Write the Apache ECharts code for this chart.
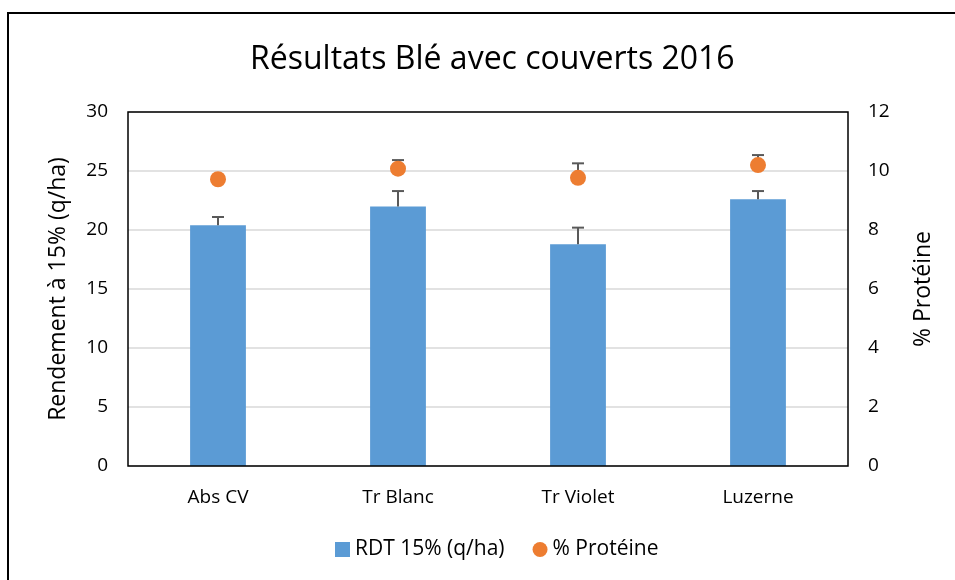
<!DOCTYPE html>
<html>
<head>
<meta charset="utf-8">
<script src="https://cdn.jsdelivr.net/npm/echarts@6/dist/echarts.min.js"></script>
<style>
  html, body { margin: 0; padding: 0; background: #fff; }
  #chart { width: 955px; height: 580px; }
</style>
</head>
<body>
<div id="chart"></div>
<script>
const categories = ['Abs CV', 'Tr Blanc', 'Tr Violet', 'Luzerne']
const rdtValues = [20.4, 22.0, 18.8, 22.6]
const rdtErrors = [0.7, 1.3, 1.4, 0.7]
const proteinValues = [9.72, 10.08, 9.77, 10.2]
const proteinErrors = [0.1, 0.29, 0.49, 0.34]

const fontFamily = '"Open Sans", "Noto Sans", sans-serif'
const textColor = '#000'

// plus-only error bars, Excel style
const errorBar = (values, errors) => (params, api) => {
  const i = params.dataIndex
  const base = api.coord([i, values[i]])
  const top = api.coord([i, values[i] + errors[i]])
  const style = { stroke: '#595959', lineWidth: 2 }
  return {
    type: 'group',
    children: [
      { type: 'line', shape: { x1: base[0], y1: base[1], x2: top[0], y2: top[1] }, style },
      { type: 'line', shape: { x1: top[0] - 6, y1: top[1], x2: top[0] + 6, y2: top[1] }, style }
    ]
  }
}

const chart = echarts.init(document.getElementById('chart'))
chart.setOption({
  animation: false,
  title: {
    text: 'Résultats Blé avec couverts 2016',
    left: 245,
    top: 39,
    textStyle: { fontFamily, fontSize: 32, fontWeight: 'normal', color: textColor }
  },
  graphic: [{
    type: 'rect',
    shape: { x: 8, y: 13, width: 960, height: 600 },
    style: { fill: 'none', stroke: '#000', lineWidth: 2 },
    silent: true
  }],
  legend: {
    bottom: 15,
    left: 330,
    itemGap: 28,
    itemWidth: 15,
    itemHeight: 15,
    textStyle: { fontFamily, fontSize: 21, color: textColor },
    data: [
      { name: 'RDT 15% (q/ha)', icon: 'rect' },
      { name: '% Protéine', icon: 'circle' }
    ]
  },
  grid: {
    left: 128,
    right: 107,
    top: 112,
    bottom: 114,
    show: true,
    z: 5,
    borderColor: '#000',
    borderWidth: 1.5
  },
  xAxis: {
    type: 'category',
    data: categories,
    axisLine: { show: false },
    axisTick: { show: false },
    axisLabel: { fontFamily, fontSize: 19, color: textColor, margin: 22 }
  },
  yAxis: [
    {
      type: 'value',
      min: 0,
      max: 30,
      interval: 5,
      name: 'Rendement à 15% (q/ha)',
      nameLocation: 'middle',
      nameGap: 58,
      nameTextStyle: { fontFamily, fontSize: 23, color: textColor },
      axisLine: { show: false },
      axisLabel: { fontFamily, fontSize: 19, color: textColor, margin: 20 },
      splitLine: { lineStyle: { color: '#d9d9d9', width: 1.5 } }
    },
    {
      type: 'value',
      min: 0,
      max: 12,
      interval: 2,
      name: '% Protéine',
      nameLocation: 'middle',
      nameGap: 64,
      nameRotate: 90,
      nameTextStyle: { fontFamily, fontSize: 23, color: textColor },
      axisLine: { show: false },
      axisLabel: { fontFamily, fontSize: 19, color: textColor, margin: 20 },
      splitLine: { show: false }
    }
  ],
  series: [
    {
      name: 'RDT 15% (q/ha)',
      type: 'bar',
      data: rdtValues,
      barWidth: '31%',
      itemStyle: { color: '#5b9bd5' },
      z: 2
    },
    {
      name: 'rdt-err',
      type: 'custom',
      data: rdtValues,
      renderItem: errorBar(rdtValues, rdtErrors),
      z: 3
    },
    {
      name: 'prot-err',
      type: 'custom',
      yAxisIndex: 1,
      data: proteinValues,
      renderItem: errorBar(proteinValues, proteinErrors),
      z: 3
    },
    {
      name: '% Protéine',
      type: 'scatter',
      yAxisIndex: 1,
      data: proteinValues,
      symbol: 'circle',
      symbolSize: 16,
      itemStyle: { color: '#ed7d31', opacity: 1 },
      z: 4
    }
  ]
})
</script>
</body>
</html>
